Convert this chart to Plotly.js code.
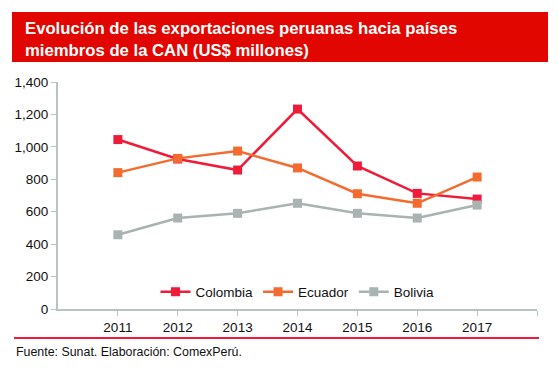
<!DOCTYPE html>
<html>
<head>
<meta charset="utf-8">
<script src="https://cdn.plot.ly/plotly-3.0.1.min.js"></script>
<style>html,body{margin:0;padding:0;background:#fff;}#chart{width:558px;height:369px;}</style>
</head>
<body>
<div id="chart"></div>
<script>
const years = [2011, 2012, 2013, 2014, 2015, 2016, 2017];
const colombia = [1045, 925, 857, 1233, 882, 713, 678];
const ecuador = [841, 929, 974, 870, 711, 652, 814];
const bolivia = [458, 561, 590, 652, 590, 561, 641];
const yTicks = [0, 200, 400, 600, 800, 1000, 1200, 1400];
const yTickText = ['0', '200', '400', '600', '800', '1,000', '1,200', '1,400'];
const xTickVals = [2011, 2012, 2013, 2014, 2015, 2016, 2017, 2018];
const xTickText = ['2011', '2012', '2013', '2014', '2015', '2016', '2017', ''];

const font = 'Liberation Sans, Arial, sans-serif';
function tr(name, y, color) {
  return {
    x: years, y: y, name: name, type: 'scatter', mode: 'lines+markers',
    line: {color: color, width: 2.5},
    marker: {symbol: 'square', size: 9, color: color}
  };
}
const data = [
  tr('Colombia', colombia, '#ee1c3a'),
  tr('Ecuador', ecuador, '#f36b2e'),
  tr('Bolivia', bolivia, '#a9b3b2')
];
const layout = {
  width: 558, height: 369,
  margin: {l: 58, r: 21, t: 82, b: 60},
  paper_bgcolor: '#ffffff', plot_bgcolor: '#ffffff',
  font: {family: font, size: 13, color: '#111'},
  showlegend: true,
  legend: {orientation: 'h', x: 0.5, xanchor: 'center', y: (309-292)/227, yanchor: 'middle',
           font: {family: font, size: 13.5, color: '#111'}, bgcolor: 'rgba(0,0,0,0)', itemwidth: 30},
  xaxis: {range: [2010, 2018], tickvals: xTickVals, ticktext: xTickText,
          showline: true, linecolor: '#b9c3c1', linewidth: 2, ticks: 'outside', ticklen: 5,
          tickcolor: '#b9c3c1', showgrid: false, zeroline: false,
          tickfont: {family: font, size: 13.5, color: '#111'}},
  yaxis: {range: [0, 1400], tickvals: yTicks, ticktext: yTickText,
          showline: true, linecolor: '#b9c3c1', linewidth: 2, ticks: 'outside', ticklen: 5,
          tickcolor: '#b9c3c1', showgrid: false, zeroline: false,
          tickfont: {family: font, size: 13.5, color: '#111'}},
  title: {text: '<b>Evolución de las exportaciones peruanas hacia países<br>miembros de la CAN (US$ millones)</b>',
          xref: 'container', yref: 'container', x: 25/558, xanchor: 'left',
          y: 1 - 34/369, yanchor: 'middle',
          font: {family: font, size: 16.7, color: '#ffffff'}},
  shapes: [
    {type: 'rect', xref: 'paper', yref: 'paper', x0: (12-58)/479, x1: (548-58)/479,
     y0: (309-62)/227, y1: (309-12)/227, fillcolor: '#e10600', line: {width: 0}, layer: 'below'},
    {type: 'line', xref: 'paper', yref: 'paper', x0: (14-58)/479, x1: (539-58)/479,
     y0: (309-338)/227, y1: (309-338)/227, line: {color: '#ee1c3a', width: 2}}
  ],
  annotations: [
    {text: 'Fuente: Sunat. Elaboración: ComexPerú.', xref: 'paper', yref: 'paper',
     x: (14-58)/479, y: (309-352)/227, xanchor: 'left', yanchor: 'middle', showarrow: false,
     font: {family: font, size: 12.4, color: '#111'}}
  ]
};
Plotly.newPlot('chart', data, layout, {displayModeBar: false, staticPlot: true});
</script>
</body>
</html>
